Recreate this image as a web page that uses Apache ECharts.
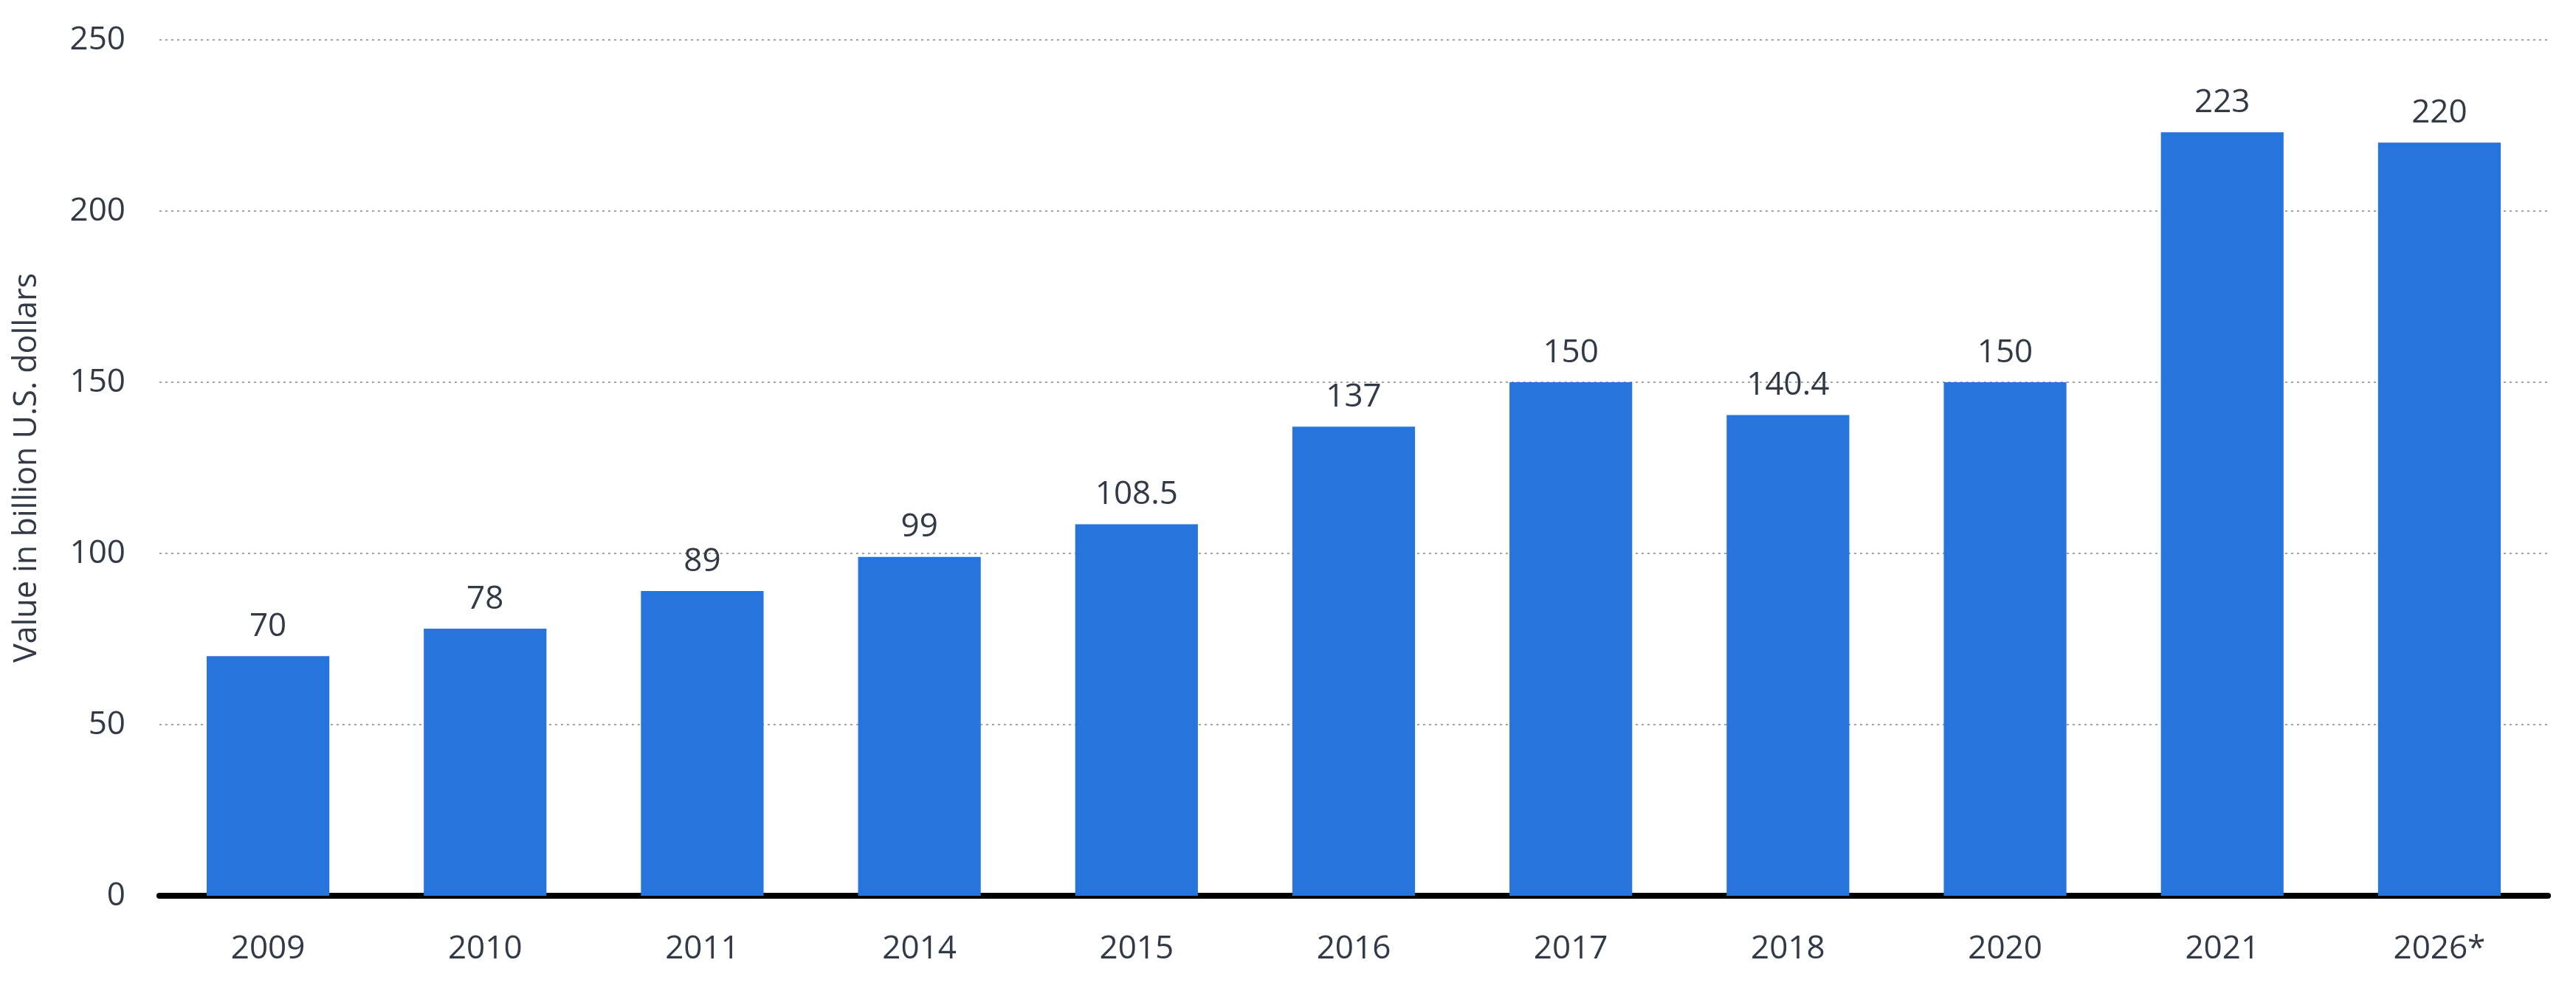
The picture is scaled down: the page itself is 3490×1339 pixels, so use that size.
<!DOCTYPE html>
<html>
<head>
<meta charset="utf-8">
<script src="https://cdn.jsdelivr.net/npm/echarts@6/dist/echarts.min.js"></script>
<style>
html,body{margin:0;padding:0;background:#fff;}
#chart{width:3490px;height:1339px;}
</style>
</head>
<body>
<div id="chart"></div>
<script>
const categories = ["2009","2010","2011","2014","2015","2016","2017","2018","2020","2021","2026*"];
const values = [70, 78, 89, 99, 108.5, 137, 150, 140.4, 150, 223, 220];
const yTicks = [0, 50, 100, 150, 200, 250];
const yAxisTitle = "Value in billion U.S. dollars";

const textColor = "#333a45";
const font = "Open Sans";

const chart = echarts.init(document.getElementById('chart'), null, {renderer: 'canvas'});
chart.setOption({
  animation: false,
  backgroundColor: '#ffffff',
  grid: {left: 216, right: 38, top: 54, bottom: 125, containLabel: false},
  xAxis: {
    type: 'category',
    data: categories,
    axisLine: {show: true, lineStyle: {color: '#000000', width: 8}},
    axisTick: {show: false},
    axisLabel: {color: textColor, fontFamily: font, fontSize: 44, margin: 50}
  },
  yAxis: {
    type: 'value',
    min: yTicks[0],
    max: yTicks[yTicks.length - 1],
    interval: 50,
    name: yAxisTitle,
    nameLocation: 'middle',
    nameGap: 158,
    nameRotate: 90,
    nameTextStyle: {color: textColor, fontFamily: font, fontSize: 43},
    axisLine: {show: false},
    axisTick: {show: false},
    axisLabel: {color: textColor, fontFamily: font, fontSize: 44, margin: 46},
    splitLine: {show: true, lineStyle: {color: '#a3a3a3', width: 2, type: [3, 5]}}
  },
  series: [{
    type: 'bar',
    data: values,
    barCategoryGap: '43.5%',
    itemStyle: {color: '#2774dd'},
    label: {
      show: true,
      position: 'top',
      distance: 18,
      color: textColor,
      fontFamily: font,
      fontSize: 44
    }
  }]
});
</script>
</body>
</html>
